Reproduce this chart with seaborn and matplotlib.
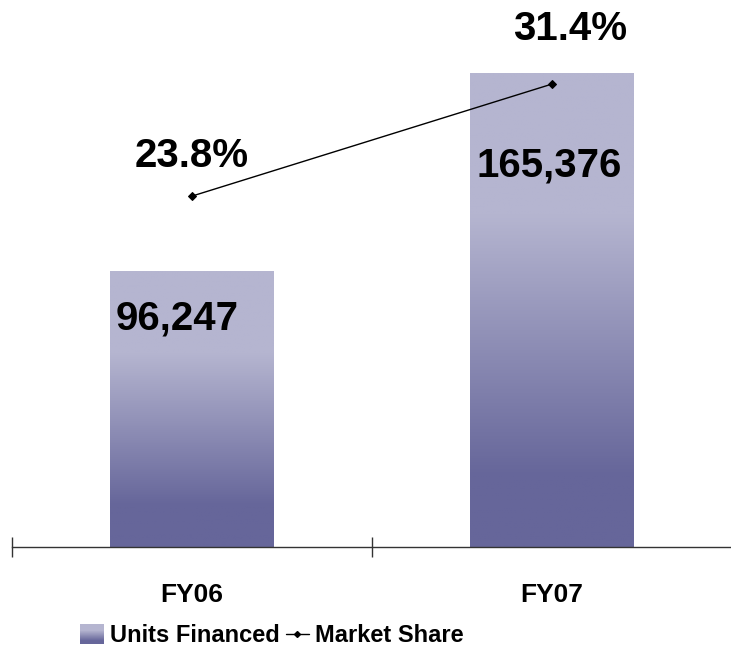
import numpy as np
import pandas as pd
import matplotlib
matplotlib.use("Agg")
from matplotlib import pyplot as plt
from matplotlib.colors import LinearSegmentedColormap
from matplotlib.patches import Rectangle
from matplotlib.lines import Line2D
from matplotlib.legend_handler import HandlerBase
import seaborn as sns

years = ["FY06", "FY07"]
units_financed = [96247, 165376]
market_share = [23.8, 31.4]
units_labels = ["96,247", "165,376"]
share_labels = ["23.8%", "31.4%"]

# label offsets in pixels (x, y) relative to bar top / line point
units_offsets = [(-15, -48), (-3, -93)]
share_offsets = [(0, 40), (18, 55)]

top_col = "#B5B5D0"
bot_col = "#66669A"
grad = LinearSegmentedColormap.from_list(
    "bargrad", [(0.0, bot_col), (0.15, bot_col), (0.7, top_col), (1.0, top_col)])

sns.set_style("white")
plt.rcParams["font.family"] = ["Liberation Sans", "DejaVu Sans"]
plt.rcParams["font.weight"] = "bold"
plt.rcParams["text.color"] = "black"
plt.rcParams["xtick.color"] = "black"

df = pd.DataFrame({"year": years, "units": units_financed, "share": market_share})

fig = plt.figure(figsize=(7.31, 6.49), dpi=100)
ax = fig.add_axes([12 / 731, 102 / 649, 720 / 731, 547 / 649])
sns.barplot(data=df, x="year", y="units", color=top_col, width=0.455, ax=ax,
            saturation=1, edgecolor="none")

# gradient fill inside each bar
gimg = np.linspace(0, 1, 256).reshape(-1, 1)
for p in ax.patches:
    x0, y0 = p.get_x(), p.get_y()
    w, h = p.get_width(), p.get_height()
    im = ax.imshow(gimg, cmap=grad, aspect="auto", origin="lower",
                   extent=[x0, x0 + w, y0, y0 + h], zorder=p.get_zorder() + 0.1)
    im.set_clip_path(p)
ax.set_xlim(-0.5, 1.5)
ax.set_ylim(0, 190750)

for i, p in enumerate(ax.patches):
    dx, dy = units_offsets[i]
    ax.annotate(units_labels[i], (p.get_x() + p.get_width() / 2, p.get_height()),
                xytext=(dx * 0.72, dy * 0.72), textcoords="offset points",
                ha="center", va="center", fontsize=29, fontweight="bold",
                color="black", zorder=5)

sns.despine(ax=ax, left=True, top=True, right=True)
ax.spines["bottom"].set_color("#333333")
ax.spines["bottom"].set_linewidth(1.0)
ax.set_yticks([])
ax.set_ylabel("")
ax.set_xlabel("")
ax.set_xticks([0, 1])
ax.set_xticklabels(years, fontsize=19, fontweight="bold", color="black")
ax.set_xticks([-0.5, 0.5, 1.5], minor=True)
ax.tick_params(axis="x", which="major", bottom=False, length=0, pad=26)
ax.tick_params(axis="x", which="minor", bottom=True, direction="inout",
               length=14, width=1, color="#333333")

ax2 = ax.twinx()
sns.lineplot(data=df, x="year", y="share", color="black", linewidth=1,
             marker="D", markersize=4, markeredgecolor="black", ax=ax2, zorder=6)
ax2.set_ylim(0, 37.1)
ax2.set_axis_off()
for i, v in enumerate(market_share):
    dx, dy = share_offsets[i]
    ax2.annotate(share_labels[i], (i, v), xytext=(dx * 0.72, dy * 0.72),
                 textcoords="offset points", ha="center", va="center",
                 fontsize=29, fontweight="bold", color="black")


class GradHandler(HandlerBase):
    def create_artists(self, legend, orig_handle, xdescent, ydescent,
                       width, height, fontsize, trans):
        n = 20
        hh = height * 1.2
        y0 = -ydescent - (hh - height) / 2
        rects = []
        for k in range(n):
            c = grad(k / (n - 1))
            r = Rectangle((-xdescent, y0 + hh * k / n), width, hh / n + 0.3,
                          facecolor=c, edgecolor="none", transform=trans)
            rects.append(r)
        return rects


h_bar = Rectangle((0, 0), 1, 1)
h_line = Line2D([], [], color="black", linewidth=1, marker="D", markersize=3)
fig.legend([h_bar, h_line], ["Units Financed", "Market Share"],
           handler_map={Rectangle: GradHandler()},
           loc="center", bbox_to_anchor=(272 / 731, 13 / 649), ncol=2,
           frameon=False, prop={"size": 17, "weight": "bold"},
           handlelength=1.0, handletextpad=0.25, columnspacing=0.25,
           borderaxespad=0, borderpad=0)

fig.savefig("out.png", dpi=100)
